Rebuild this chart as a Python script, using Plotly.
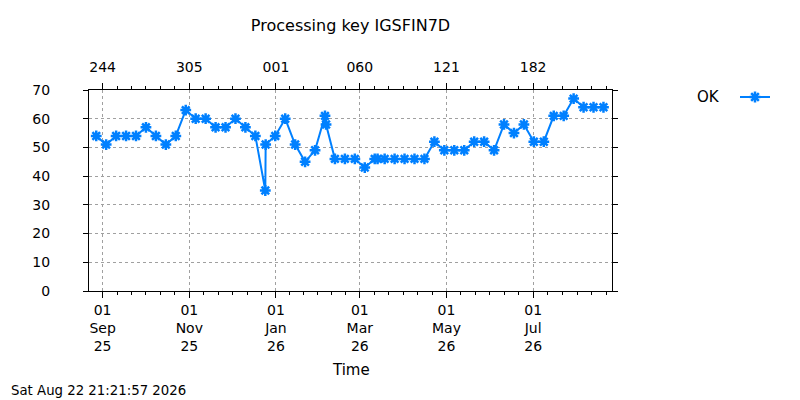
from datetime import datetime
import plotly.graph_objects as go

# weekly solutions, plotted at mid-week
dates = [
    "2025-08-27 12:00", "2025-09-03 12:00", "2025-09-10 12:00", "2025-09-17 12:00",
    "2025-09-24 12:00", "2025-10-01 12:00", "2025-10-08 12:00", "2025-10-15 12:00",
    "2025-10-22 12:00", "2025-10-29 12:00", "2025-11-05 12:00", "2025-11-12 12:00",
    "2025-11-19 12:00", "2025-11-26 12:00", "2025-12-03 12:00", "2025-12-10 12:00",
    "2025-12-17 12:00", "2025-12-24 12:00", "2025-12-24 18:00", "2025-12-31 12:00",
    "2026-01-07 12:00", "2026-01-14 12:00", "2026-01-21 12:00", "2026-01-28 12:00",
    "2026-02-04 12:00", "2026-02-05 06:00", "2026-02-11 12:00", "2026-02-18 12:00",
    "2026-02-25 12:00", "2026-03-04 12:00", "2026-03-11 12:00", "2026-03-13 12:00",
    "2026-03-18 12:00", "2026-03-25 12:00", "2026-04-01 12:00", "2026-04-08 12:00",
    "2026-04-15 12:00", "2026-04-22 12:00", "2026-04-29 12:00", "2026-05-06 12:00",
    "2026-05-13 12:00", "2026-05-20 12:00", "2026-05-27 12:00", "2026-06-03 12:00",
    "2026-06-10 12:00", "2026-06-17 12:00", "2026-06-24 12:00", "2026-07-01 12:00",
    "2026-07-08 12:00", "2026-07-15 12:00", "2026-07-22 12:00", "2026-07-29 12:00",
    "2026-08-05 12:00", "2026-08-12 12:00", "2026-08-19 12:00",
]
ok_counts = [
    54, 51, 54, 54,
    54, 57, 54, 51,
    54, 63, 60, 60,
    57, 57, 60, 57,
    54, 35, 51, 54,
    60, 51, 45, 49,
    61, 58, 46, 46,
    46, 43, 46, 46,
    46, 46, 46, 46,
    46, 52, 49, 49,
    49, 52, 52, 49,
    58, 55, 58, 52,
    52, 61, 61, 67,
    64, 64, 64,
]

major_ticks = ["2025-09-01", "2025-11-01", "2026-01-01",
               "2026-03-01", "2026-05-01", "2026-07-01"]
bottom_labels = ["01<br>Sep<br>25", "01<br>Nov<br>25", "01<br>Jan<br>26",
                 "01<br>Mar<br>26", "01<br>May<br>26", "01<br>Jul<br>26"]
top_labels = ["244", "305", "001", "060", "121", "182"]

x_range = ["2025-08-22 10:00", "2026-08-25 12:00"]
stamp = "Sat Aug 22 21:21:57 2026"

BLUE = "rgb(0,128,255)"
FONT = "DejaVu Sans"

# the page body has an 8px margin, so the figure is drawn 8px in from the corner
OFF = 8
W, H = 800 - OFF, 400 - OFF
L, T = 89 - OFF, 90 - OFF
PW, PH = 523, 201

# minor ticks: 6 sub-intervals between the 2-monthly major ticks
edges = [datetime.fromisoformat(d) for d in major_ticks] + [datetime(2026, 9, 1)]
lo, hi = datetime.fromisoformat(x_range[0]), datetime.fromisoformat(x_range[1])
minor_vals = []
for a, b in zip(edges[:-1], edges[1:]):
    step = (b - a) / 6
    for i in range(1, 6):
        t = a + step * i
        if lo <= t <= hi:
            minor_vals.append(t)


def px_x(px):
    # window pixel -> paper x
    return (px - 89) / PW


def px_y(py):
    return (90 + PH - py) / PH


fig = go.Figure()
fig.add_trace(go.Scatter(
    x=dates, y=ok_counts, name="OK", mode="lines+markers",
    line=dict(color=BLUE, width=2),
    marker=dict(symbol="asterisk-open", size=9, color=BLUE,
                line=dict(color=BLUE, width=2.5)),
))
# same series on the top (day-of-year) axis so that axis gets drawn
fig.add_trace(go.Scatter(
    x=dates, y=ok_counts, xaxis="x2", mode="lines",
    line=dict(width=0, color="rgba(0,0,0,0)"),
    hoverinfo="skip", showlegend=False,
))

common_x = dict(
    type="date", range=x_range, tickmode="array", tickvals=major_ticks,
    ticks="outside", ticklen=6, tickcolor="black",
    showline=True, linecolor="black", linewidth=1,
    tickfont=dict(family=FONT, size=14, color="black"),
    minor=dict(tickmode="array", tickvals=minor_vals, ticks="outside",
               ticklen=3, tickcolor="black", showgrid=False),
    zeroline=False, automargin=False,
)

fig.update_layout(
    width=W, height=H,
    margin=dict(l=L, r=W - L - PW, t=T, b=H - T - PH),
    paper_bgcolor="white", plot_bgcolor="white",
    font=dict(family=FONT, size=14, color="black"),
    title=dict(text="Processing key IGSFIN7D", x=0.5, xref="paper",
               y=1 - (25 - OFF) / H, yref="container", yanchor="middle",
               xanchor="center", font=dict(size=16)),
    xaxis=dict(common_x, ticktext=bottom_labels, showgrid=True,
               gridcolor="#a0a0a0", griddash="dot", gridwidth=1,
               mirror=True),
    xaxis2=dict(common_x, ticktext=top_labels, overlaying="x", side="top",
                anchor="y", showgrid=False, ticklabelstandoff=5),
    yaxis=dict(range=[0, 70], dtick=10, tick0=0, ticks="outside", ticklen=5,
               tickcolor="black", showline=True, linecolor="black",
               linewidth=1, mirror="ticks", showgrid=True,
               gridcolor="#a0a0a0", griddash="dot", gridwidth=1,
               zeroline=False, automargin=False,
               ticklabelstandoff=30,
               tickfont=dict(family=FONT, size=14)),
    showlegend=True,
    legend=dict(x=px_x(735), xanchor="left",
                y=px_y(97), yanchor="middle",
                font=dict(size=2, color="rgba(0,0,0,0)"),
                bgcolor="rgba(0,0,0,0)"),
    annotations=[
        dict(text="OK", xref="paper", yref="paper",
             x=px_x(722), y=px_y(97),
             xanchor="right", yanchor="middle", showarrow=False,
             font=dict(size=15)),
        dict(text="Time", xref="paper", yref="paper", x=0.5,
             y=px_y(370), xanchor="center", yanchor="middle",
             showarrow=False, font=dict(size=15)),
        dict(text=stamp, xref="paper", yref="paper", x=px_x(9),
             y=px_y(390), xanchor="left", yanchor="middle",
             showarrow=False, font=dict(size=13.3)),
    ],
)

fig.write_html("out.html")
